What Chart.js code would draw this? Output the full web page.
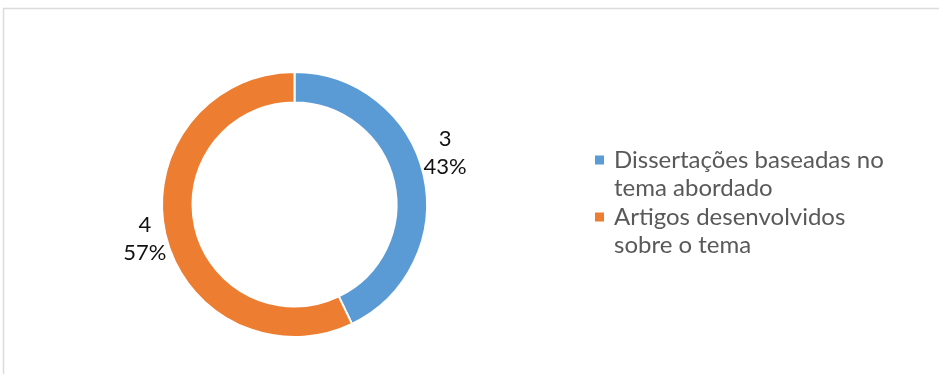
<!DOCTYPE html>
<html>
<head>
<meta charset="utf-8">
<script src="https://cdn.jsdelivr.net/npm/chart.js@4"></script>
<style>
  html, body { margin: 0; padding: 0; background: #fff; overflow: hidden; }
  #grafico { display: block; }
</style>
</head>
<body>
<canvas id="grafico" width="939" height="374"></canvas>
<script>
const categorias = [
    ['Dissertações baseadas no', 'tema abordado'],
    ['Artigos desenvolvidos', 'sobre o tema']
];
const quantidades = [3, 4];
const cores = ['#5B9BD5', '#ED7D31'];

const fonte = 'Lato, "Open Sans", sans-serif';

// frame around the chart, as in the spreadsheet export
const moldura = {
    id: 'moldura',
    beforeDraw(chart) {
        const c = chart.ctx;
        c.save();
        c.strokeStyle = '#dcdcdc';
        c.lineWidth = 1.5;
        c.beginPath();
        c.moveTo(3.5, chart.height);
        c.lineTo(3.5, 8.5);
        c.lineTo(chart.width, 8.5);
        c.stroke();
        c.restore();
    }
};

// value + percentage outside each slice
const rotulos = {
    id: 'rotulos',
    afterDatasetsDraw(chart, args, opts) {
        const c = chart.ctx;
        const meta = chart.getDatasetMeta(0);
        const valores = chart.data.datasets[0].data;
        const total = valores.reduce((a, b) => a + b, 0);
        c.save();
        c.font = opts.size + 'px ' + fonte;
        c.fillStyle = '#111111';
        c.textAlign = 'center';
        c.textBaseline = 'middle';
        meta.data.forEach((arc, i) => {
            const meio = (arc.startAngle + arc.endAngle) / 2;
            const r = arc.outerRadius + opts.distancia;
            const ajuste = opts.ajustes[i] || [0, 0];
            const x = arc.x + Math.cos(meio) * r + ajuste[0];
            const y = arc.y + Math.sin(meio) * r + ajuste[1];
            const pct = Math.round(valores[i] / total * 100) + '%';
            c.fillText(String(valores[i]), x, y - opts.linha / 2);
            c.fillText(pct, x, y + opts.linha / 2);
        });
        c.restore();
    }
};

// legend at the right, with wrapped labels
const legenda = {
    id: 'legenda',
    afterDraw(chart, args, opts) {
        const c = chart.ctx;
        c.save();
        c.font = opts.size + 'px ' + fonte;
        c.textBaseline = 'middle';
        c.textAlign = 'left';
        let y = opts.y;
        chart.data.labels.forEach((linhas, i) => {
            c.fillStyle = cores[i];
            c.fillRect(opts.x, y - opts.caixa / 2, opts.caixa, opts.caixa);
            c.fillStyle = '#595959';
            linhas.forEach(l => {
                c.fillText(l, opts.x + 19, y);
                y += opts.linha;
            });
        });
        c.restore();
    }
};

const grafico = new Chart(document.getElementById('grafico'), {
    type: 'doughnut',
    data: {
        labels: categorias,
        datasets: [{
            data: quantidades,
            backgroundColor: cores,
            borderColor: '#ffffff',
            borderWidth: 2,
            hoverOffset: 0
        }]
    },
    options: {
        responsive: false,
        animation: false,
        cutout: '77%',
        layout: { padding: { left: 161, right: 511, top: 71, bottom: 36 } },
        plugins: {
            legend: { display: false },
            tooltip: { enabled: false },
            rotulos: { size: 22, linha: 28, distancia: 20, ajustes: [[2, -18], [-1, 0]] },
            legenda: { size: 24, linha: 28.5, x: 595, y: 160, caixa: 9 }
        }
    },
    plugins: [moldura, rotulos, legenda]
});
</script>
</body>
</html>
